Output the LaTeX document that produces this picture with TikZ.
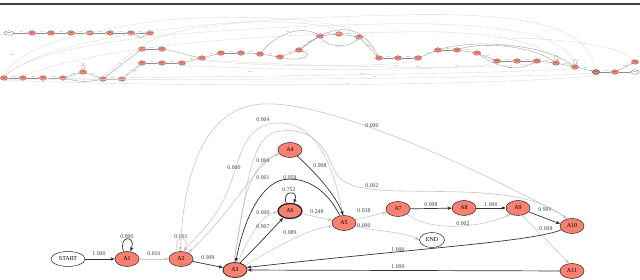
\documentclass[tikz,border=0pt]{standalone}
\usepackage{fontspec}
\setmainfont{Liberation Serif}
\usetikzlibrary{shapes.geometric,arrows.meta}
\definecolor{salmonc}{RGB}{250,128,114}
\tikzset{
 st/.style={ellipse, draw=black!85, fill=salmonc, minimum width=24pt, minimum height=15pt, inner sep=0pt, line width=0.5pt, font=\fontsize{6}{6}\selectfont},
 wt/.style={ellipse, draw=black!85, fill=white, minimum height=15pt, inner sep=0pt, line width=0.5pt, font=\fontsize{6}{6}\selectfont},
 dk/.style={draw=black!80, line width=0.7pt, -{Triangle[length=4pt,width=3pt]}},
 lt/.style={draw=black!22, line width=0.6pt, -{Triangle[length=4pt,width=3pt]}},
 lab/.style={font=\fontsize{5.8}{6}\selectfont, text=black!75, inner sep=0.5pt},
 tn/.style={ellipse, draw=black!60, fill=salmonc, minimum width=7pt, minimum height=4.6pt, inner sep=0pt, line width=0.3pt, font=\fontsize{1.5}{1.5}\selectfont},
 tw/.style={tn, fill=white, minimum width=10pt},
 te/.style={draw=black!45, line width=0.3pt, -{Triangle[length=1.3pt,width=1pt]}},
 tl/.style={draw=black!15, line width=0.35pt, -{Triangle[length=1.3pt,width=1pt]}},
 tlab/.style={font=\fontsize{1.6}{1.6}\selectfont, text=black!60, inner sep=0pt},
}
\begin{document}
\begin{tikzpicture}[x=1pt,y=-1pt]
\fill[white] (0,0) rectangle (640,280);
\useasboundingbox (0,0) rectangle (640,280);
\draw[line width=1.4pt, black!75] (0,3.9) -- (640,3.9);

% ---------------- top (small) graph ----------------
\node[tw] (s0) at (9,33) {START};
\foreach \n/\x in {1/32,2/51,3/71,4/90,5/110,6/131,7/150}
  \node[tn] (r\n) at (\x,33) {A\n};
\foreach \n/\x/\y in {1/4/78,2/23/78,3/43/78,4/63/78,5/83/72,6/103/79,7/122/79,
  8/142/49,9/162/49,10/142/63,11/162/63,12/182/63,13/202/58,14/221/53,15/241/53,
  16/260/54,17/280/57,18/299/50,19/320/36,20/339/34,21/359/37,22/379/58,23/398/58,
  24/418/58,25/438/50,26/457/50,27/477/53,28/497/61,29/517/61,30/537/61,31/556/63,
  32/575/67,34/615/72,35/635/62}
  \node[tn] (b\n) at (\x,\y) {A\n};
\node[tn, line width=0.9pt] (b33) at (596,72) {A33};
\node[tw, minimum width=8pt] (b36) at (635,72) {END};

\foreach \a/\b in {s0/r1,r1/r2,r2/r3,r3/r4,r4/r5,r5/r6,r6/r7}
  \draw[te] (\a) -- node[tlab, above=0.4pt] {1.000} (\b);
\draw[te] (r6.-20) .. controls (138,38) and (143,38) .. node[tlab, below=0.3pt] {0.000} (r7.200);

\foreach \a/\b in {b1/b2,b2/b3,b3/b4,b4/b5,b5/b6,b6/b7,b8/b9,b10/b11,b11/b12,b12/b13,
  b13/b14,b14/b15,b15/b16,b16/b17,b17/b18,b18/b19,b19/b20,b20/b21,b21/b22,b22/b23,b23/b24,
  b24/b25,b25/b26,b26/b27,b27/b28,b28/b29,b29/b30,b30/b31,b31/b32,b32/b33,b33/b34,b34/b35}
  \draw[te] (\a) -- node[tlab, above=0.4pt] {0.998} (\b);
\draw[te] (b4) .. controls (80,82) and (88,82) .. node[tlab, below=0.2pt] {0.052} (b6);
\draw[te] (b5.110) .. controls (80,63) and (86,63) .. node[tlab, above=0.2pt] {0.752} (b5.70);
\draw[te] (b6) -- node[tlab, left=0.3pt] {0.907} (b8);
\draw[te] (b7) -- node[tlab, right=0.3pt] {0.089} (b10);
\draw[tl] (b6) .. controls (120,62) and (130,52) .. (b8);
\draw[te] (b9) .. controls (180,52) and (190,56) .. (b13);
\draw[te] (b16) .. controls (275,35) and (300,25) .. node[tlab, above=0.2pt] {0.958} (b19);
\draw[te] (b17) .. controls (300,62) and (315,55) .. (b18);
\draw[te] (b19) .. controls (328,48) and (350,48) .. node[tlab, below=0.2pt] {0.000} (b21);
\draw[te] (b18) .. controls (330,25) and (360,20) .. (b22);
\draw[te] (b27) .. controls (500,70) and (520,70) .. node[tlab, below=0.2pt] {0.008} (b30);
\draw[te] (b31.110) .. controls (551,54) and (561,54) .. (b31.70);
\draw[te] (b32.110) .. controls (570,58) and (580,58) .. (b32.70);
\draw[te] (b34) -- (b36);
\draw[te] (b26) .. controls (480,42) and (530,45) .. node[tlab, above=0.2pt] {0.002} (b31);
\draw[te] (b25) .. controls (470,40) and (540,42) .. (b32);

% long light arcs
\draw[tl] (b33.110) .. controls (590,25) and (520,12) .. (400,15) .. controls (250,18) and (60,30) .. (b1.60);
\draw[tl] (b32.100) .. controls (565,30) and (480,22) .. (380,24) .. controls (220,28) and (50,38) .. (b1.80);
\draw[tl] (b31.100) .. controls (540,38) and (470,30) .. (400,32) .. controls (300,34) and (120,40) .. (b2.80);
\draw[tl] (b35) .. controls (620,45) and (560,38) .. (500,38);
\draw[tl] (b33.200) .. controls (500,78) and (300,80) .. node[tlab, above=0.2pt] {0.001} (b1.-20);
\draw[tl] (b32.220) .. controls (480,74) and (280,76) .. node[tlab, above=0.2pt] {0.000} (b3.-10);
\draw[tl] (b34.220) .. controls (520,86) and (200,88) .. node[tlab, above=0.2pt] {0.001} (b1.-60);
\draw[tl] (b30.240) .. controls (480,70) and (330,68) .. node[tlab, above=0.2pt] {0.000} (b13.-40);
\draw[tl] (b28.250) .. controls (460,70) and (300,72) .. (b12.-60);
\draw[tl] (b24.240) .. controls (400,67) and (270,68) .. (b13.-70);
\draw[tl] (b22.120) .. controls (360,20) and (270,18) .. (220,25) .. controls (170,30) and (150,40) .. (b8.60);
\draw[tl] (b21.100) .. controls (340,15) and (200,14) .. (150,22) .. controls (60,35) and (20,50) .. (b1.100);
\node[tlab] (tl1) at (12,55) {0.000};
\node[tlab] (tl2) at (250,72) {0.000};
\node[tlab] (tl3) at (418,67) {0.000};
\node[tlab] (tl4) at (457,66) {0.001};

% ---------------- bottom graph ----------------
\node[wt, minimum width=34pt] (start) at (68,259) {START};
\node[st] (a1) at (127,259) {A1};
\node[st] (a2) at (181,259) {A2};
\node[st, line width=0.8pt] (a3) at (235,270) {A3};
\node[st] (a4) at (290,150) {A4};
\node[st, line width=1.3pt] (a6) at (290,211) {A6};
\node[st] (a5) at (344,223) {A5};
\node[st] (a7) at (398,209) {A7};
\node[st] (a8) at (464,208) {A8};
\node[st] (a9) at (518,208) {A9};
\node[st] (a10) at (572,226) {A10};
\node[wt, minimum width=25pt] (end) at (432,240) {END};
\node[st] (a11) at (572,271) {A11};

% edges
\draw[dk] (start) -- (a1);
\node[lab] (l1) at (99,254) {1.000};
\draw[dk] (a1.115) .. controls (118,235) and (136,235) .. (a1.65);
\node[lab] (l2) at (127,237) {0.990};
\draw[lt] (a1) -- (a2);
\node[lab] (l3) at (154,254) {0.010};
\draw[lt] (a2.115) .. controls (172,235) and (190,235) .. (a2.65);
\node[lab] (l4) at (181,237) {0.001};
\draw[dk] (a2) -- (a3);
\node[lab] (l5) at (208,258) {0.999};

% big arcs into A2
\draw[lt] (a10.115) .. controls (480,170) and (330,100) .. (262,104) .. controls (205,108) and (184,170) .. (a2.95);
\node[lab] (l6) at (372,126) {0.000};
\draw[lt] (a5.100) .. controls (336,175) and (320,125) .. (282,123) .. controls (240,121) and (240,165) .. (226,195) .. controls (214,222) and (196,236) .. (a2.70);
\node[lab] (l7) at (263,120) {0.004};
\draw[lt] (a4.195) .. controls (255,165) and (238,205) .. (a2.40);
\node[lab] (l8) at (234,168) {0.000};
\draw[lt] (a3.100) .. controls (246,200) and (248,140) .. (275,132) .. controls (305,126) and (322,140) .. (332,165) .. controls (338,182) and (350,190) .. (400,191) .. controls (470,192) and (530,190) .. (a10.125);
\node[lab] (l9) at (263,178) {0.001};
\node[lab] (l10) at (372,186) {0.002};

% A3 / A4 / A5 / A6 cluster
\draw[lt] (a3.95) .. controls (242,205) and (248,165) .. (a4.200);
\node[lab] (l11) at (263,161) {0.004};
\draw[dk] (a4.-40) .. controls (318,175) and (335,195) .. (a5.95);
\node[lab] (l12) at (320,166) {0.998};
\draw[dk] (a5.120) .. controls (325,185) and (300,176) .. (282,180) .. controls (262,185) and (245,215) .. (a3.85);
\node[lab] (l13) at (290,178) {0.958};
\draw[lt] (a3.70) .. controls (250,235) and (262,215) .. (a6.185);
\node[lab] (l14) at (263,213) {0.000};
\draw[dk] (a3.55) .. controls (258,245) and (270,232) .. (a6.225);
\node[lab] (l15) at (263,227) {0.907};
\draw[dk] (a6.115) .. controls (281,190) and (299,190) .. (a6.65);
\node[lab] (l16) at (289,190) {0.752};
\draw[lt] (a6) -- (a5);
\node[lab] (l17) at (317,212) {0.248};
\draw[lt] (a3.25) .. controls (275,248) and (305,230) .. (a5.195);
\node[lab] (l18) at (290,233) {0.089};

% right part
\draw[lt] (a5.15) -- (a7.195);
\node[lab] (l19) at (364,211) {0.038};
\draw[lt] (a5.-15) .. controls (380,232) and (405,232) .. (end.180);
\node[lab] (l20) at (364,226) {0.000};
\draw[dk] (a7) -- (a8);
\node[lab] (l21) at (431,205) {0.998};
\draw[lt] (a7.-30) .. controls (430,232) and (480,228) .. (a9.220);
\node[lab] (l22) at (463,224) {0.002};
\draw[dk] (a8) -- (a9);
\node[lab] (l23) at (491,205) {1.000};
\draw[dk] (a9.-20) -- (a10.170);
\node[lab] (l24) at (545,210) {0.991};
\draw[lt] (a9.-60) -- (a11.110);
\node[lab] (l25) at (546,229) {0.008};
\draw[dk] (a10.200) .. controls (530,242) and (420,248) .. (a3.12);
\node[lab] (l26) at (398,250) {1.000};
\draw[dk] (a11) -- (a3);
\node[lab] (l27) at (398,267) {1.000};
\end{tikzpicture}
\end{document}
